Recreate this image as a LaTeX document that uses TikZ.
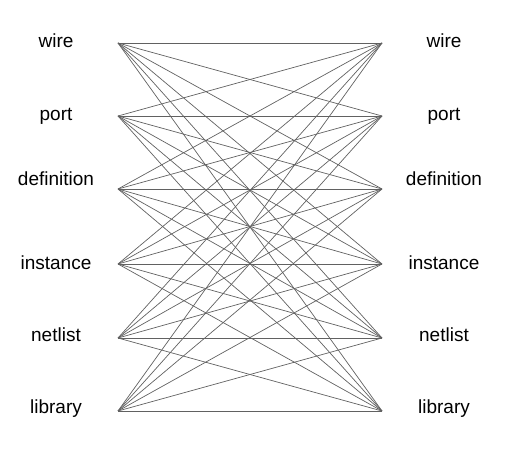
\documentclass[tikz,border=0pt]{standalone}
\usepackage{fontspec}
\setmainfont{Liberation Sans}
\begin{document}
\begin{tikzpicture}[x=1pt,y=1pt,
  lbl/.style={font=\fontsize{19}{21}\selectfont, inner sep=0pt},
  edge/.style={draw=black!62, line width=0.7pt}]
\useasboundingbox (0,0) rectangle (507,464);
\foreach \n/\py/\ty in {wire/43/41, port/116/116, definition/189/179, instance/264/263, netlist/338/335, library/411/409}{
  \node[lbl] (tl-\n) at (56,464-\ty) {\n};
  \node[lbl] (tr-\n) at (444,464-\ty) {\n};
  \coordinate (L-\n) at (118,464-\py);
  \coordinate (R-\n) at (382,464-\py);
}
\foreach \a in {wire,port,definition,instance,netlist,library}{
  \foreach \b in {wire,port,definition,instance,netlist,library}{
    \draw[edge] (L-\a) -- (R-\b);
  }
}
\end{tikzpicture}
\end{document}
